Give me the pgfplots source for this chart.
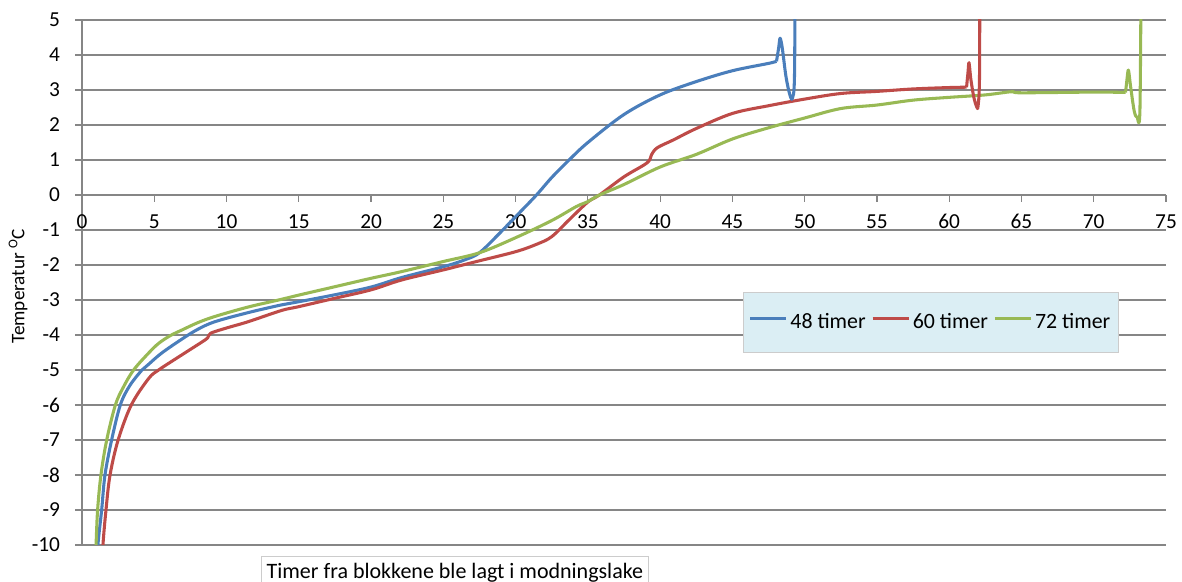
\documentclass[border=0pt]{standalone}
\usepackage{fontspec}
\setmainfont{Carlito}
\usepackage{pgfplots}
\pgfplotsset{compat=1.18}
\definecolor{cblue}{HTML}{4A7EBB}
\definecolor{cred}{HTML}{BE4B48}
\definecolor{cgreen}{HTML}{98B954}
\definecolor{legfill}{HTML}{DBEEF4}
\definecolor{gridc}{HTML}{868686}
\begin{document}
\begin{tikzpicture}
\begin{axis}[
  scale only axis,
  width=813pt, height=393.75pt,
  xmin=0, xmax=75, ymin=-10, ymax=5,
  axis x line=middle, axis y line=left,
  hide obscured x ticks=false,
  axis line style={-, draw=gridc, line width=0.9pt},
  xtick={0,5,...,75},
  ytick={-10,-9,...,5},
  yticklabels={-10,-9,-8,-7,-6,-5,-4,-3,-2,-1,0,1,2,3,4,5},
  xticklabels={0,5,10,15,20,25,30,35,40,45,50,55,60,65,70,75},
  ymajorgrids,
  grid style={draw=gridc, line width=0.9pt},
  tick style={draw=gridc, line width=0.9pt},
  tick align=outside,
  major tick length=5pt,
  tick label style={font=\fontsize{16}{19}\selectfont},
  xticklabel style={anchor=north, yshift=-6pt},
  yticklabel style={anchor=east, xshift=-8pt},
  ylabel={Temperatur \textsuperscript{O}C},
  ylabel style={at={(axis description cs:-0.059,0.493)}, anchor=center, rotate=0, font=\fontsize{14.4}{17}\selectfont},
  xlabel={Timer fra blokkene ble lagt i modningslake},
  xlabel style={at={(axis description cs:0.344,-0.0207)}, anchor=north, draw=gray!40, inner xsep=4pt, inner ysep=5pt, font=\fontsize{16.5}{19}\selectfont},
  legend columns=3,
  legend style={at={(axis cs:45.74,-2.77)}, anchor=north west, fill=legfill, draw=gray!40, inner xsep=4pt, inner ysep=14pt, font=\fontsize{16.4}{19}\selectfont, /tikz/every even column/.append style={column sep=2pt}},
  legend image code/.code={\draw[#1] (0pt,0.3em) -- (27pt,0.3em);},
  every axis plot/.append style={line width=2.3pt, line join=round},
]
\addplot[cblue, smooth, tension=0.55] coordinates {
(0.95,-11) (1.1,-10) (1.36,-9) (1.59,-8) (2.05,-7) (2.65,-6) (3.3,-5.45) (4.15,-5) (4.6,-4.84) (5.5,-4.52) (6.9,-4.12) (8,-3.84) (9.2,-3.62) (11.5,-3.36) (13.8,-3.14) (15,-3.05) (17.5,-2.85) (20,-2.63) (22.1,-2.36) (25,-2.05) (26.5,-1.85) (27.5,-1.65) (28.9,-1.09) (30,-0.62) (31.4,-0.02) (32.5,0.5) (33.7,1.0) (35,1.5) (37.5,2.3) (40,2.86) (42.5,3.24) (45,3.55) (47.5,3.76) (48.05,3.82)
};
\addlegendentry{48 timer}
\addplot[cred, smooth, tension=0.55] coordinates {
(1.35,-11) (1.45,-10) (1.66,-9) (1.94,-8) (2.5,-7) (3.41,-6) (4.6,-5.25) (5.3,-5.0) (6.9,-4.57) (8.3,-4.2) (8.7,-4.08) (8.9,-3.95) (10,-3.8) (11.5,-3.62) (13.8,-3.3) (15,-3.19) (17.5,-2.95) (20,-2.71) (22.1,-2.43) (25,-2.14) (27.3,-1.9) (30,-1.62) (31.5,-1.4) (32.5,-1.19) (33.7,-0.71) (35,-0.2) (35.8,0.0) (37.5,0.52) (39.1,0.92) (39.4,1.15) (39.8,1.35) (40.9,1.57) (42.5,1.9) (45,2.33) (47.5,2.55) (50,2.74) (52.5,2.9) (55,2.96) (57.5,3.03) (60,3.07) (61.2,3.08)
};
\addlegendentry{60 timer}
\addplot[cgreen, smooth, tension=0.55] coordinates {
(0.85,-11) (0.97,-10) (1.08,-9) (1.31,-8) (1.71,-7) (2.31,-6) (2.85,-5.5) (3.57,-5) (4.6,-4.52) (5.3,-4.24) (6.1,-4.02) (6.9,-3.86) (8,-3.65) (9.2,-3.47) (11.5,-3.2) (13.6,-3.0) (15,-2.86) (17.5,-2.62) (20,-2.38) (22.1,-2.19) (25,-1.9) (27.5,-1.65) (30,-1.22) (32.5,-0.73) (34.2,-0.33) (35,-0.19) (35.8,0) (37.5,0.3) (40,0.8) (42.5,1.16) (45,1.6) (47.5,1.92) (50,2.2) (52.5,2.47) (55,2.57) (57.5,2.71) (60,2.79) (62.5,2.86) (64.3,2.95) (65,2.92) (70,2.94) (72.2,2.93)
};
\addlegendentry{72 timer}
% spikes
\addplot[cblue, smooth, tension=0.5, forget plot] coordinates {
(48.05,3.82) (48.2,4.2) (48.3,4.48) (48.45,4.2) (48.7,3.4) (48.95,2.9) (49.15,2.76) (49.3,3.5) (49.35,8)
};
\addplot[cred, smooth, tension=0.5, forget plot] coordinates {
(61.2,3.08) (61.3,3.5) (61.37,3.78) (61.5,3.3) (61.7,2.8) (61.9,2.52) (62.0,2.55) (62.1,3.5) (62.12,8)
};
\addplot[cgreen, smooth, tension=0.5, forget plot] coordinates {
(72.2,2.93) (72.3,3.3) (72.4,3.57) (72.55,3.1) (72.8,2.4) (73.0,2.22) (73.2,2.5) (73.3,8)
};
\end{axis}
\pgfresetboundingbox
\path[use as bounding box] (-61.5pt,-27.75pt) rectangle (825pt,408.75pt);
\end{tikzpicture}
\end{document}
